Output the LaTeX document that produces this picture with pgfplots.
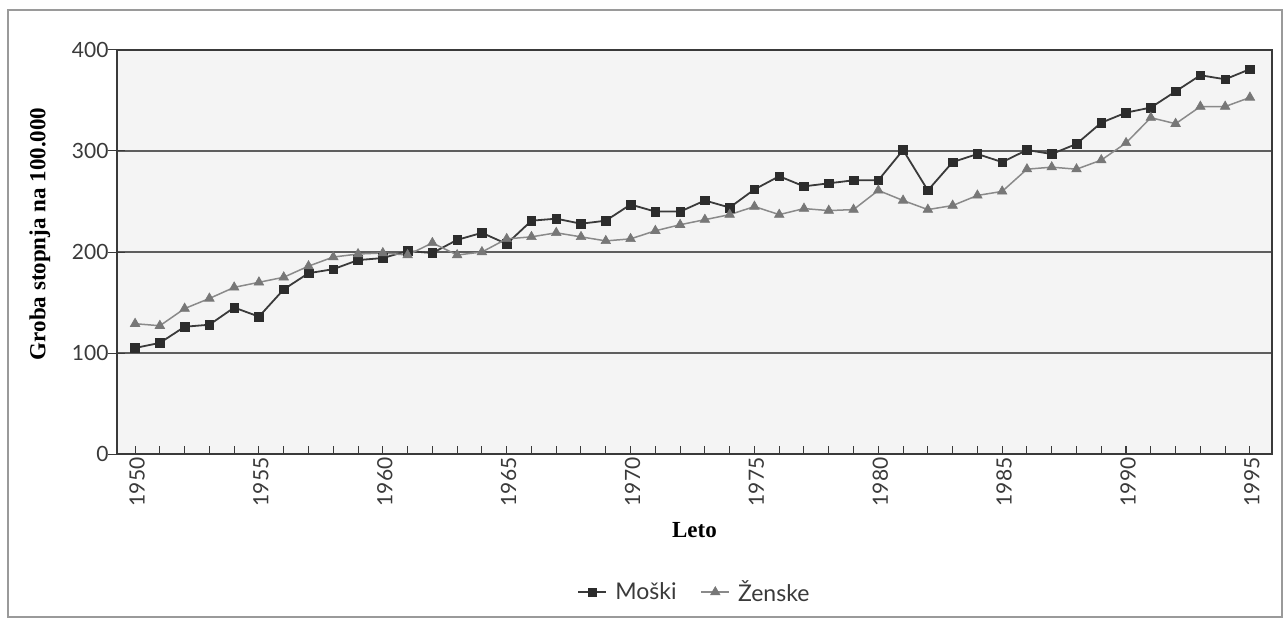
\documentclass[border=0pt]{standalone}
\usepackage{pgfplots}
\pgfplotsset{compat=1.18}
\usepackage{fontspec}
\setmainfont{Liberation Serif}
\setsansfont{Lato}
\definecolor{frameC}{HTML}{3A3A3A}
\definecolor{gridC}{HTML}{5E5E5E}
\definecolor{menC}{HTML}{3A3A3A}
\definecolor{menM}{HTML}{2C2C2C}
\definecolor{womC}{HTML}{8A8A8A}
\definecolor{womM}{HTML}{777777}
\definecolor{outerC}{HTML}{9A9A9A}
\definecolor{bgC}{HTML}{F4F4F4}
\definecolor{txtC}{HTML}{3A3A3A}
\pgfplotstableread{
year val
1950 105
1951 110
1952 126
1953 128
1954 145
1955 136
1956 163
1957 179
1958 183
1959 192
1960 194
1961 201
1962 199
1963 212
1964 219
1965 208
1966 231
1967 233
1968 228
1969 231
1970 247
1971 240
1972 240
1973 251
1974 244
1975 262
1976 275
1977 265
1978 268
1979 271
1980 271
1981 301
1982 261
1983 289
1984 297
1985 289
1986 301
1987 297
1988 307
1989 328
1990 338
1991 343
1992 359
1993 375
1994 371
1995 381
}\moski
\pgfplotstableread{
year val
1950 129
1951 127
1952 144
1953 154
1954 165
1955 170
1956 175
1957 186
1958 195
1959 198
1960 199
1961 197
1962 209
1963 197
1964 200
1965 213
1966 215
1967 219
1968 215
1969 211
1970 213
1971 221
1972 227
1973 232
1974 237
1975 245
1976 237
1977 243
1978 241
1979 242
1980 261
1981 251
1982 242
1983 246
1984 256
1985 260
1986 282
1987 284
1988 282
1989 291
1990 308
1991 333
1992 327
1993 344
1994 344
1995 353
}\zenske
\begin{document}
\begin{tikzpicture}[x=1pt,y=1pt]
\useasboundingbox (-117,-164) rectangle (1167,454);
\draw[color=outerC, line width=1.6pt] (-109,-163) rectangle (1165,444);
\begin{axis}[
  at={(0,0)}, anchor=south west,
  scale only axis, width=1155pt, height=404pt,
  xmin=1949.27, xmax=1995.89, ymin=0, ymax=400,
  axis background/.style={fill=bgC},
  axis line style={frameC, line width=1.3pt},
  xtick={1950,1955,...,1995},
  minor xtick={1950,...,1995},
  ytick={0,100,...,400},
  tick align=inside, major tick length=8pt, minor tick length=8pt,
  xtick pos=bottom, ytick pos=left,
  tick style={frameC, line width=1pt},
  extra y ticks={0,100,...,400}, extra y tick labels={},
  extra y tick style={tick align=outside, major tick length=9pt, grid=none},
  ymajorgrids, grid style={color=gridC, line width=1.3pt},
  ticklabel style={font=\sffamily\fontsize{21}{24}\selectfont, text=txtC, /pgf/number format/1000 sep={}, /pgf/number format/assume math mode=true},
  xticklabel style={rotate=90, anchor=east, yshift=-2pt},
  yticklabel style={xshift=-5pt},
  xlabel={Leto},
  xlabel style={at={(axis description cs:0.5,-0.188)}, anchor=center, font=\bfseries\fontsize{23}{26}\selectfont},
  ylabel={Groba stopnja na 100.000},
  ylabel style={at={(axis description cs:-0.0667,0.545)}, anchor=center, font=\bfseries\fontsize{23}{26}\selectfont},
  legend columns=2,
  legend style={at={(0.5,-0.342)}, anchor=center, draw=none, fill=none, text=txtC, font=\sffamily\fontsize{23}{26}\selectfont,
    /tikz/every odd column/.append style={column sep=6pt},
    /tikz/every even column/.append style={column sep=22pt}},
  legend image code/.code={\draw[mark repeat=2,mark phase=2,#1] plot coordinates {(0pt,0pt) (14pt,0pt) (28pt,0pt)};},
]
\addplot[color=menC, line width=1.8pt, mark=square*, mark size=4.3pt, mark options={fill=menM, draw=menM, line width=0.6pt}] table[x=year,y=val] {\moski};
\addlegendentry{Moški}
\addplot[color=womC, line width=1.5pt, mark=triangle*, mark size=5.5pt, mark options={fill=womM, draw=womM, line width=0.6pt}] table[x=year,y=val] {\zenske};
\addlegendentry{Ženske}
\end{axis}
\end{tikzpicture}
\end{document}
